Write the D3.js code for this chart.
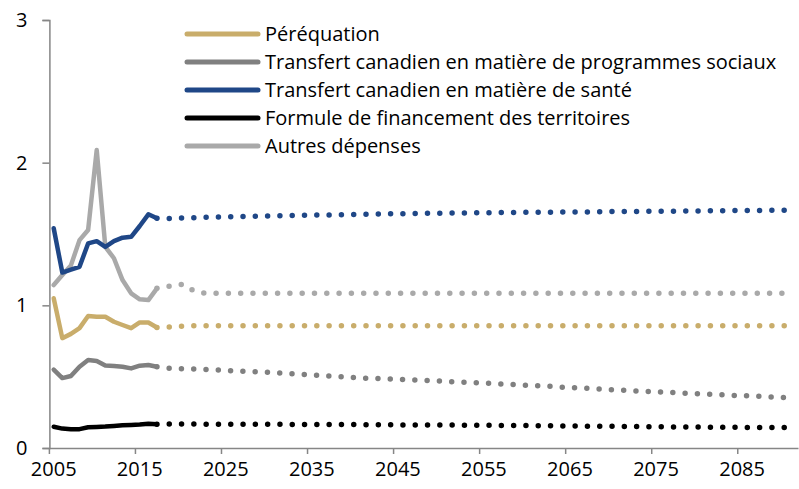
<!DOCTYPE html>
<html>
<head>
<meta charset="utf-8">
<script src="https://cdn.jsdelivr.net/npm/d3@7"></script>
<style>
  body { margin: 0; background: #fff; }
  text { font-family: "Segoe UI", "Open Sans", "Noto Sans", sans-serif; fill: #000; }
</style>
</head>
<body>
<div id="chart"></div>
<script>
// historical years 2005-2017, projection 2017-2091
var histYears = d3.range(2005, 2018);
var projYears = d3.range(2017, 2092);
var allYears = d3.range(2005, 2092);
var xTicks = [2005, 2015, 2025, 2035, 2045, 2055, 2065, 2075, 2085];
var yTicks = [0, 1, 2, 3];

var seriesNames = [
  "Péréquation",
  "Transfert canadien en matière de programmes sociaux",
  "Transfert canadien en matière de santé",
  "Formule de financement des territoires",
  "Autres dépenses"
];
var seriesColors = ["#c9ad6b", "#808080", "#1f4787", "#000000", "#a9a9a9"];

// historical values (solid)
var perequationHist = [1.05, 0.77, 0.80, 0.84, 0.925, 0.92, 0.92, 0.885, 0.862, 0.84, 0.88, 0.88, 0.845];
var tcpsHist = [0.55, 0.49, 0.505, 0.57, 0.617, 0.61, 0.578, 0.575, 0.57, 0.558, 0.577, 0.582, 0.57];
var tcsHist = [1.54, 1.23, 1.25, 1.27, 1.434, 1.45, 1.41, 1.45, 1.474, 1.48, 1.556, 1.638, 1.61];
var tffHist = [0.149, 0.136, 0.132, 0.132, 0.145, 0.148, 0.15, 0.155, 0.16, 0.162, 0.165, 0.17, 0.167];
var autresHist = [1.142, 1.212, 1.28, 1.457, 1.528, 2.088, 1.41, 1.33, 1.177, 1.084, 1.042, 1.037, 1.119];

// projected values (dotted), 2017-2091
var perequationProj = [
  0.845, 0.846, 0.850, 0.854, 0.856, 0.857, 0.857, 0.857, 0.857, 0.857,
  0.857, 0.857, 0.857, 0.857, 0.857, 0.857, 0.857, 0.857, 0.857, 0.857,
  0.857, 0.857, 0.857, 0.857, 0.857, 0.857, 0.857, 0.857, 0.857, 0.857,
  0.857, 0.857, 0.857, 0.857, 0.857, 0.857, 0.857, 0.857, 0.857, 0.857,
  0.857, 0.857, 0.857, 0.857, 0.857, 0.857, 0.857, 0.857, 0.857, 0.857,
  0.857, 0.857, 0.857, 0.857, 0.857, 0.857, 0.857, 0.857, 0.857, 0.857,
  0.857, 0.857, 0.857, 0.857, 0.857, 0.857, 0.857, 0.857, 0.857, 0.857,
  0.857, 0.857, 0.857, 0.857, 0.857
];
var tcpsProj = [
  0.570, 0.560, 0.558, 0.556, 0.554, 0.551, 0.549, 0.547, 0.544, 0.541,
  0.538, 0.535, 0.533, 0.530, 0.526, 0.523, 0.519, 0.516, 0.512, 0.508,
  0.504, 0.501, 0.497, 0.493, 0.490, 0.488, 0.486, 0.484, 0.482, 0.479,
  0.477, 0.474, 0.471, 0.469, 0.466, 0.463, 0.461, 0.458, 0.455, 0.452,
  0.449, 0.446, 0.443, 0.440, 0.437, 0.434, 0.431, 0.427, 0.424, 0.421,
  0.418, 0.414, 0.411, 0.408, 0.405, 0.402, 0.399, 0.397, 0.394, 0.391,
  0.388, 0.385, 0.383, 0.380, 0.377, 0.374, 0.372, 0.369, 0.367, 0.364,
  0.362, 0.359, 0.357, 0.354, 0.352
];
var tcsProj = [
  1.610, 1.608, 1.610, 1.612, 1.614, 1.616, 1.618, 1.619, 1.620, 1.621,
  1.623, 1.624, 1.625, 1.626, 1.628, 1.629, 1.630, 1.631, 1.632, 1.633,
  1.634, 1.635, 1.636, 1.637, 1.638, 1.639, 1.640, 1.641, 1.642, 1.643,
  1.644, 1.645, 1.645, 1.646, 1.647, 1.647, 1.648, 1.649, 1.649, 1.650,
  1.650, 1.651, 1.651, 1.652, 1.652, 1.653, 1.653, 1.654, 1.654, 1.655,
  1.655, 1.656, 1.656, 1.657, 1.657, 1.658, 1.658, 1.659, 1.659, 1.660,
  1.660, 1.661, 1.661, 1.662, 1.662, 1.663, 1.663, 1.664, 1.664, 1.665,
  1.665, 1.666, 1.666, 1.667, 1.668
];
var tffProj = [
  0.167, 0.168, 0.168, 0.168, 0.168, 0.168, 0.167, 0.167, 0.167, 0.167,
  0.167, 0.167, 0.166, 0.166, 0.166, 0.166, 0.165, 0.165, 0.165, 0.165,
  0.164, 0.164, 0.164, 0.164, 0.163, 0.163, 0.163, 0.163, 0.162, 0.162,
  0.162, 0.162, 0.161, 0.161, 0.161, 0.160, 0.160, 0.160, 0.159, 0.159,
  0.158, 0.158, 0.157, 0.157, 0.156, 0.156, 0.155, 0.155, 0.154, 0.154,
  0.153, 0.153, 0.152, 0.152, 0.151, 0.151, 0.150, 0.150, 0.149, 0.149,
  0.148, 0.148, 0.147, 0.147, 0.146, 0.146, 0.145, 0.145, 0.145, 0.144,
  0.144, 0.144, 0.143, 0.143, 0.143
];
var autresProj = [
  1.119, 1.130, 1.140, 1.147, 1.110, 1.088, 1.085, 1.085, 1.085, 1.085,
  1.085, 1.085, 1.085, 1.085, 1.085, 1.085, 1.085, 1.085, 1.085, 1.085,
  1.085, 1.085, 1.085, 1.085, 1.085, 1.085, 1.085, 1.085, 1.085, 1.085,
  1.085, 1.085, 1.085, 1.085, 1.085, 1.085, 1.085, 1.085, 1.085, 1.085,
  1.085, 1.085, 1.085, 1.085, 1.085, 1.085, 1.085, 1.085, 1.085, 1.085,
  1.085, 1.085, 1.085, 1.085, 1.085, 1.085, 1.085, 1.085, 1.085, 1.085,
  1.085, 1.085, 1.085, 1.085, 1.085, 1.085, 1.085, 1.085, 1.085, 1.085,
  1.085, 1.085, 1.085, 1.085, 1.085
];

var hist = [perequationHist, tcpsHist, tcsHist, tffHist, autresHist];
var proj = [perequationProj, tcpsProj, tcsProj, tffProj, autresProj];

// svg container
var svgWidth = 799;
var svgHeight = 489;

var svg = d3.select("#chart").append("svg")
  .attr("width", svgWidth)
  .attr("height", svgHeight);

// category axis, points sit in the middle of each year
var x = d3.scaleBand().domain(allYears).range([49.4, 798]).paddingInner(0).paddingOuter(0);
var half = x.bandwidth() / 2;
var y = d3.scaleLinear().domain([0, 3]).range([448, 20]);

var axisColor = "#868686";
var fontSize = 20;

// y axis
var yAxis = svg.append("g")
  .attr("transform", "translate(49.4,0)")
  .call(d3.axisLeft(y).tickValues(yTicks).tickSize(7).tickPadding(15).tickFormat(d3.format("d")));
yAxis.select(".domain").attr("stroke", axisColor).attr("stroke-width", 1.5);
yAxis.selectAll(".tick line").attr("stroke", axisColor).attr("stroke-width", 1.5);
yAxis.selectAll(".tick text").attr("font-size", fontSize).attr("font-family", null).attr("fill", "#000");

// x axis
var xAxis = svg.append("g")
  .attr("transform", "translate(0,448)")
  .call(d3.axisBottom(x).tickValues(xTicks).tickSize(6).tickPadding(8).tickSizeOuter(0));
xAxis.select(".domain").attr("stroke", axisColor).attr("stroke-width", 1.5);
xAxis.selectAll(".tick line").attr("stroke", axisColor).attr("stroke-width", 1.5)
  .attr("transform", "translate(" + (-half) + ",0)");
xAxis.selectAll(".tick text").attr("font-size", fontSize).attr("font-family", null).attr("fill", "#000");

var line = d3.line()
  .x(function(d) { return x(d.year) + half; })
  .y(function(d) { return y(d.value); });

// dotted projections first, solid history on top
proj.forEach(function(vals, i) {
  var pts = projYears.map(function(yr, j) { return { year: yr, value: vals[j] }; });
  svg.append("path")
    .attr("d", line(pts))
    .attr("fill", "none")
    .attr("stroke", seriesColors[i])
    .attr("stroke-width", 5.5)
    .attr("stroke-linecap", "round")
    .attr("stroke-dasharray", "0 12.3");
});

// draw order so that the blue line sits above the light grey one where they cross
[4, 0, 1, 3, 2].forEach(function(i) {
  var pts = histYears.map(function(yr, j) { return { year: yr, value: hist[i][j] }; });
  svg.append("path")
    .attr("d", line(pts))
    .attr("fill", "none")
    .attr("stroke", seriesColors[i])
    .attr("stroke-width", 4.5)
    .attr("stroke-linejoin", "round")
    .attr("stroke-linecap", "round");
});

// legend
var legend = svg.append("g").attr("transform", "translate(187,34)");
seriesNames.forEach(function(name, i) {
  var row = legend.append("g").attr("transform", "translate(0," + (i * 28) + ")");
  row.append("line")
    .attr("x1", 0).attr("x2", 71)
    .attr("stroke", seriesColors[i])
    .attr("stroke-width", 5)
    .attr("stroke-linecap", "round");
  row.append("text")
    .attr("x", 78)
    .attr("dy", "0.35em")
    .attr("font-size", fontSize)
    .text(name);
});
</script>
</body>
</html>
